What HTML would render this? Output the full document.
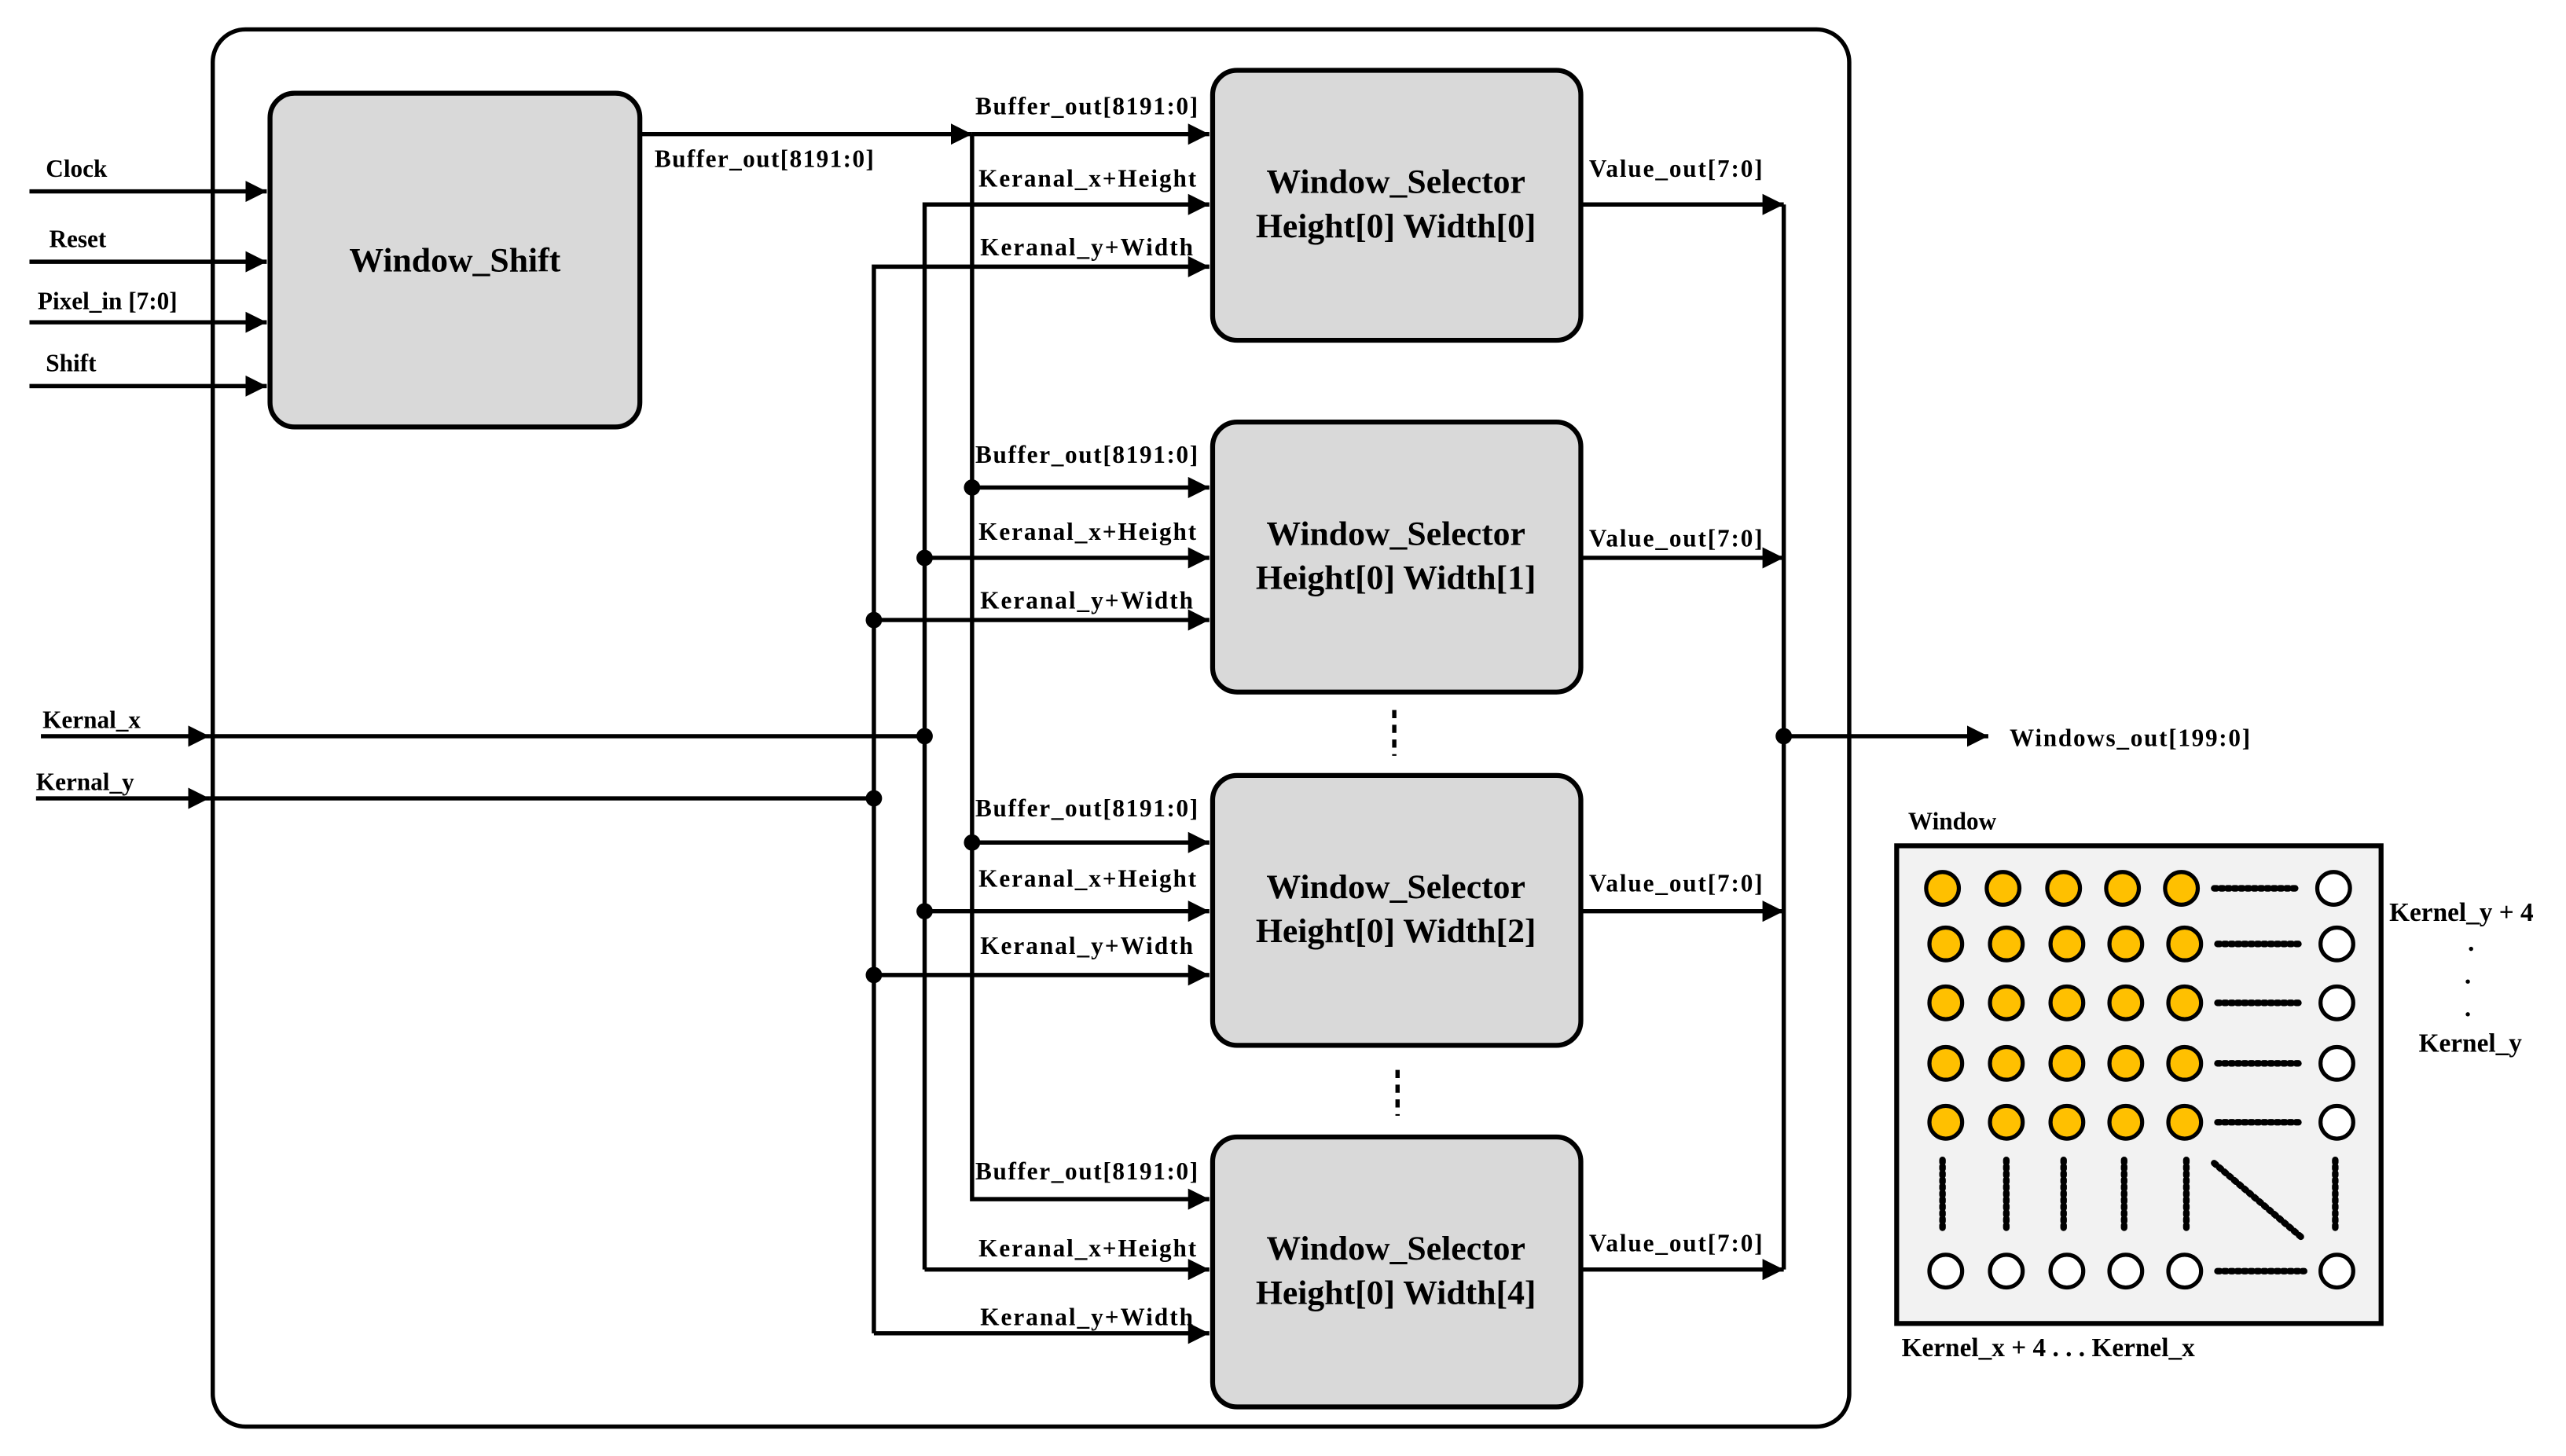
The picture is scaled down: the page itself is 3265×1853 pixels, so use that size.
<!DOCTYPE html>
<html><head><meta charset="utf-8"><style>
html,body{margin:0;padding:0;background:#fff;}
svg{display:block;}
text{font-family:"Liberation Serif",serif;font-weight:bold;fill:#000;}
.l{font-size:15px;}
.k{font-size:16px;}
.b{font-size:21px;}
</style></head><body>
<svg width="3265" height="1853" viewBox="0 0 1568 890" preserveAspectRatio="none" xmlns="http://www.w3.org/2000/svg">
<defs>
<marker id="a" viewBox="0 0 10 10" refX="10" refY="5" markerWidth="5" markerHeight="5" orient="auto" markerUnits="strokeWidth"><path d="M0,0 L10,5 L0,10 z" fill="#000"/></marker>
</defs>
<g stroke="#000" stroke-width="2.6" fill="none">
<rect x="130" y="18" width="1000" height="854" rx="20"/>
</g>
<rect x="165" y="57" width="226" height="204" rx="15" fill="#d9d9d9" stroke="#000" stroke-width="3"/>
<text class="b" x="278" y="166" text-anchor="middle">Window_Shift</text>
<g stroke="#000" stroke-width="2.6" fill="none" marker-end="url(#a)">
<line x1="18" y1="117" x2="163" y2="117"/>
<line x1="18" y1="160" x2="163" y2="160"/>
<line x1="18" y1="197" x2="163" y2="197"/>
<line x1="18" y1="236" x2="163" y2="236"/>
<line x1="391" y1="82" x2="594" y2="82"/>
<line x1="594" y1="82" x2="739" y2="82"/>
<polyline points="565,776 565,125 739,125"/>
<polyline points="534,815 534,163 739,163"/>
<line x1="594" y1="298" x2="739" y2="298"/>
<line x1="565" y1="341" x2="739" y2="341"/>
<line x1="534" y1="379" x2="739" y2="379"/>
<line x1="594" y1="515" x2="739" y2="515"/>
<line x1="565" y1="557" x2="739" y2="557"/>
<line x1="534" y1="596" x2="739" y2="596"/>
<polyline points="594,82 594,733 739,733"/>
<line x1="565" y1="776" x2="739" y2="776"/>
<line x1="534" y1="815" x2="739" y2="815"/>
<line x1="25" y1="450" x2="128" y2="450"/>
<line x1="22" y1="488" x2="128" y2="488"/>
<line x1="966" y1="125" x2="1090" y2="125"/>
<line x1="966" y1="341" x2="1090" y2="341"/>
<line x1="966" y1="557" x2="1090" y2="557"/>
<line x1="966" y1="776" x2="1090" y2="776"/>
<line x1="1090" y1="450" x2="1215" y2="450"/>
</g>
<g stroke="#000" stroke-width="2.6" fill="none">
<line x1="128" y1="450" x2="565" y2="450"/>
<line x1="128" y1="488" x2="534" y2="488"/>
<line x1="1090" y1="125" x2="1090" y2="776"/>
<line x1="852" y1="434" x2="852" y2="462" stroke-dasharray="5 4"/>
<line x1="854" y1="654" x2="854" y2="682" stroke-dasharray="5 4"/>
</g>
<g fill="#000">
<circle cx="594" cy="298" r="5"/><circle cx="565" cy="341" r="5"/><circle cx="534" cy="379" r="5"/>
<circle cx="594" cy="515" r="5"/><circle cx="565" cy="557" r="5"/><circle cx="534" cy="596" r="5"/>
<circle cx="565" cy="450" r="5"/><circle cx="534" cy="488" r="5"/><circle cx="1090" cy="450" r="5"/>
</g>
<g fill="#d9d9d9" stroke="#000" stroke-width="3">
<rect x="741" y="43" width="225" height="165" rx="15"/>
<rect x="741" y="258" width="225" height="165" rx="15"/>
<rect x="741" y="474" width="225" height="165" rx="15"/>
<rect x="741" y="695" width="225" height="165" rx="15"/>
</g>
<g class="b" text-anchor="middle">
<text class="b" x="853" y="118">Window_Selector</text><text class="b" x="853" y="145">Height[0] Width[0]</text>
<text class="b" x="853" y="333">Window_Selector</text><text class="b" x="853" y="360">Height[0] Width[1]</text>
<text class="b" x="853" y="549">Window_Selector</text><text class="b" x="853" y="576">Height[0] Width[2]</text>
<text class="b" x="853" y="770">Window_Selector</text><text class="b" x="853" y="797">Height[0] Width[4]</text>
</g>
<g>
<text class="l" x="28" y="108">Clock</text>
<text class="l" x="30" y="151">Reset</text>
<text class="l" x="23" y="189">Pixel_in [7:0]</text>
<text class="l" x="28" y="227">Shift</text>
<text class="l" x="26" y="445">Kernal_x</text>
<text class="l" x="22" y="483">Kernal_y</text>
<text class="l" x="400" y="102" textLength="134">Buffer_out[8191:0]</text>
<text class="l" x="596" y="70" textLength="136">Buffer_out[8191:0]</text>
<text class="l" x="598" y="114" textLength="133">Keranal_x+Height</text>
<text class="l" x="599" y="156" textLength="130">Keranal_y+Width</text>
<text class="l" x="596" y="283" textLength="136">Buffer_out[8191:0]</text>
<text class="l" x="598" y="330" textLength="133">Keranal_x+Height</text>
<text class="l" x="599" y="372" textLength="130">Keranal_y+Width</text>
<text class="l" x="596" y="499" textLength="136">Buffer_out[8191:0]</text>
<text class="l" x="598" y="542" textLength="133">Keranal_x+Height</text>
<text class="l" x="599" y="583" textLength="130">Keranal_y+Width</text>
<text class="l" x="596" y="721" textLength="136">Buffer_out[8191:0]</text>
<text class="l" x="598" y="768" textLength="133">Keranal_x+Height</text>
<text class="l" x="599" y="810" textLength="130">Keranal_y+Width</text>
<text class="l" x="971" y="108" textLength="106">Value_out[7:0]</text>
<text class="l" x="971" y="334" textLength="106">Value_out[7:0]</text>
<text class="l" x="971" y="545" textLength="106">Value_out[7:0]</text>
<text class="l" x="971" y="765" textLength="106">Value_out[7:0]</text>
<text class="l" x="1228" y="456" textLength="147">Windows_out[199:0]</text>
<text class="l" x="1166" y="507">Window</text>
<text class="k" x="1460" y="563">Kernel_y + 4</text>
<text class="k" x="1478" y="643">Kernel_y</text>
<text class="k" x="1162" y="829">Kernel_x + 4  . . .  Kernel_x</text>
</g>
<g fill="#000"><circle cx="1510" cy="580" r="1.3"/><circle cx="1508" cy="600" r="1.3"/><circle cx="1508" cy="620" r="1.3"/></g>
<rect x="1159" y="517" width="296" height="292" fill="#f2f2f2" stroke="#000" stroke-width="3"/>
<g stroke="#000" stroke-width="2.5" fill="#ffc000">
<circle cx="1187" cy="543" r="10"/><circle cx="1224" cy="543" r="10"/><circle cx="1261" cy="543" r="10"/><circle cx="1297" cy="543" r="10"/><circle cx="1333" cy="543" r="10"/>
<circle cx="1189" cy="577" r="10"/><circle cx="1226" cy="577" r="10"/><circle cx="1263" cy="577" r="10"/><circle cx="1299" cy="577" r="10"/><circle cx="1335" cy="577" r="10"/>
<circle cx="1189" cy="613" r="10"/><circle cx="1226" cy="613" r="10"/><circle cx="1263" cy="613" r="10"/><circle cx="1299" cy="613" r="10"/><circle cx="1335" cy="613" r="10"/>
<circle cx="1189" cy="650" r="10"/><circle cx="1226" cy="650" r="10"/><circle cx="1263" cy="650" r="10"/><circle cx="1299" cy="650" r="10"/><circle cx="1335" cy="650" r="10"/>
<circle cx="1189" cy="686" r="10"/><circle cx="1226" cy="686" r="10"/><circle cx="1263" cy="686" r="10"/><circle cx="1299" cy="686" r="10"/><circle cx="1335" cy="686" r="10"/>
</g>
<g stroke="#000" stroke-width="2.5" fill="#fff">
<circle cx="1426" cy="543" r="10"/><circle cx="1428" cy="577" r="10"/><circle cx="1428" cy="613" r="10"/><circle cx="1428" cy="650" r="10"/><circle cx="1428" cy="686" r="10"/>
<circle cx="1189" cy="777" r="10"/><circle cx="1226" cy="777" r="10"/><circle cx="1263" cy="777" r="10"/><circle cx="1299" cy="777" r="10"/><circle cx="1335" cy="777" r="10"/><circle cx="1428" cy="777" r="10"/>
</g>
<g stroke="#000" stroke-width="4" stroke-linecap="round" stroke-dasharray="1.5 2.5" fill="none">
<line x1="1353" y1="543" x2="1405" y2="543"/>
<line x1="1355" y1="577" x2="1407" y2="577"/>
<line x1="1355" y1="613" x2="1407" y2="613"/>
<line x1="1355" y1="650" x2="1407" y2="650"/>
<line x1="1355" y1="686" x2="1407" y2="686"/>
<line x1="1355" y1="777" x2="1408" y2="777"/>
<line x1="1187" y1="709" x2="1187" y2="751"/>
<line x1="1226" y1="709" x2="1226" y2="751"/>
<line x1="1261" y1="709" x2="1261" y2="751"/>
<line x1="1298" y1="709" x2="1298" y2="751"/>
<line x1="1336" y1="709" x2="1336" y2="751"/>
<line x1="1427" y1="709" x2="1427" y2="751"/>
<line x1="1353" y1="711" x2="1406" y2="756"/>
</g>
</svg>
</body></html>
